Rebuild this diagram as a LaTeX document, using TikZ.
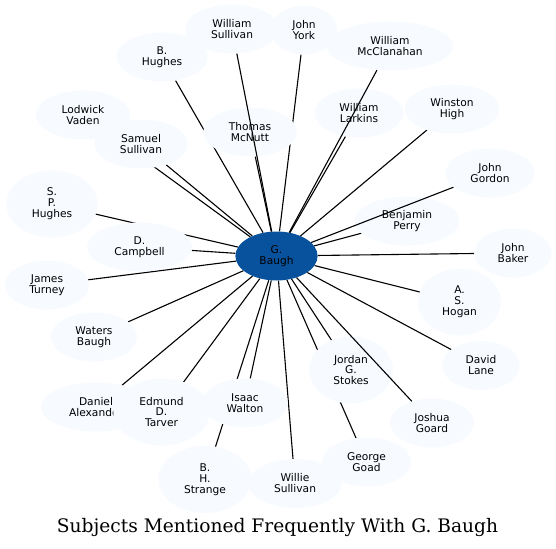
\documentclass[tikz,border=0pt]{standalone}
\usepackage{fontspec}
\newfontfamily\labelfont{DejaVu Sans}
\newfontfamily\titlefont{DejaVu Serif}
\usetikzlibrary{shapes.geometric}
\definecolor{hubblue}{HTML}{08519C}
\definecolor{paleblue}{HTML}{F7FBFF}
\pgfdeclarelayer{back}
\pgfdeclarelayer{front}
\pgfsetlayers{back,main,front}

\begin{document}
\begin{tikzpicture}[x=1bp,y=-1bp,
  main node/.style={ellipse,fill=paleblue,align=center,inner xsep=12bp,inner ysep=2bp,
    minimum height=49bp,font=\labelfont\fontsize{10.7}{11}\selectfont},
  tall node/.style={main node,minimum height=67bp},
  hub node/.style={main node,fill=hubblue}]
  \useasboundingbox (0,0) rectangle (556,549);

  \node[main node] (wsullivan) at (232,29) {William\\Sullivan};
  \node[main node] (jyork) at (304,30) {John\\York};
  \node[main node] (wmcclanahan) at (390,46) {William\\McClanahan};
  \node[main node] (bhughes) at (162,57) {B.\\Hughes};
  \node[main node] (lvaden) at (83,115) {Lodwick\\Vaden};
  \node[main node] (ssullivan) at (141,144) {Samuel\\Sullivan};
  \node[main node] (tmcnutt) at (250,132) {Thomas\\McNutt};
  \node[main node] (wlarkins) at (359,113) {William\\Larkins};
  \node[main node] (whigh) at (452,109) {Winston\\High};
  \node[main node] (jgordon) at (490,173) {John\\Gordon};
  \node[main node] (bperry) at (407,221) {Benjamin\\Perry};
  \node[main node] (jbaker) at (513,253) {John\\Baker};
  \node[tall node] (sphughes) at (52,204) {S.\\P.\\Hughes};
  \node[main node] (dcampbell) at (139.5,247) {D.\\Campbell};
  \node[hub node] (baugh) at (276.5,256) {G.\\Baugh};
  \node[main node] (jturney) at (47,285) {James\\Turney};
  \node[main node] (wbaugh) at (94,337) {Waters\\Baugh};
  \node[main node] (dalexander) at (96,407) {Daniel\\Alexander};
  \node[tall node] (etarver) at (161.5,412) {Edmund\\D.\\Tarver};
  \node[main node] (iwalton) at (245,403) {Isaac\\Walton};
  \node[tall node] (bhstrange) at (205,479.5) {B.\\H.\\Strange};
  \node[main node] (wisullivan) at (295,483.5) {Willie\\Sullivan};
  \node[main node] (ggoad) at (366.5,462) {George\\Goad};
  \node[tall node] (jstokes) at (351,370) {Jordan\\G.\\Stokes};
  \node[main node] (jgoard) at (432,423) {Joshua\\Goard};
  \node[tall node] (ashogan) at (459.5,302) {A.\\S.\\Hogan};
  \node[main node] (dlane) at (481,365.5) {David\\Lane};

  \begin{pgfonlayer}{back}
  \path[line width=1.1bp]
   (baugh) edge (jyork)
   (baugh) edge (bhughes)
   (baugh) edge (lvaden)
   (baugh) edge (ssullivan)
   (baugh) edge (tmcnutt)
   (baugh) edge (wlarkins)
   (baugh) edge (whigh)
   (baugh) edge (bperry)
   (baugh) edge (jbaker)
   (baugh) edge (sphughes)
   (baugh) edge (dcampbell)
   (baugh) edge (jturney)
   (baugh) edge (wbaugh)
   (baugh) edge (dalexander)
   (baugh) edge (etarver)
   (baugh) edge (iwalton)
   (baugh) edge (bhstrange)
   (baugh) edge (wisullivan)
   (baugh) edge (ggoad)
   (baugh) edge (jstokes)
   (baugh) edge (ashogan)
   (baugh) edge (dlane);
  \end{pgfonlayer}
  \begin{pgfonlayer}{front}
  \path[line width=1.1bp]
   (baugh) edge (wsullivan)
   (baugh) edge (wmcclanahan)
   (baugh) edge (jgordon)
   (baugh) edge (jgoard);
  \end{pgfonlayer}

  \node[font=\titlefont\fontsize{18.7}{22}\selectfont,anchor=base] (title) at (277.5,532)
    {Subjects Mentioned Frequently With G. Baugh};
\end{tikzpicture}
\end{document}
